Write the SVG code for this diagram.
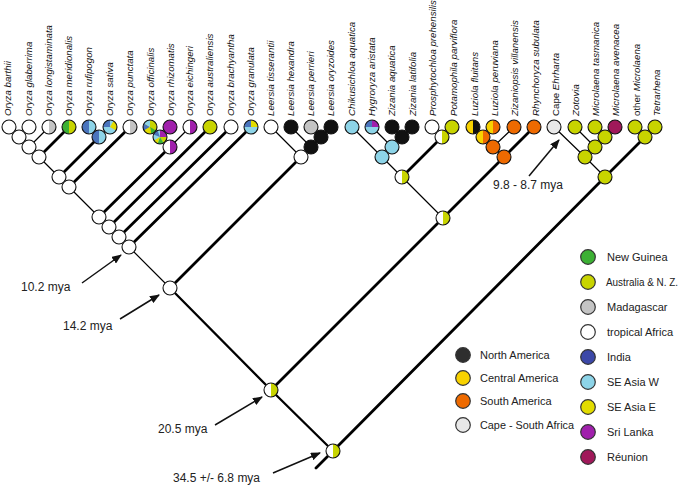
<svg xmlns="http://www.w3.org/2000/svg" xmlns:xlink="http://www.w3.org/1999/xlink" width="685" height="485" viewBox="0 0 685 485">
<style>
.t{font-family:"Liberation Sans",Arial,sans-serif;font-size:9.7px;font-style:italic;fill:#111}
.up{font-style:normal}
.lg{font-family:"Liberation Sans",Arial,sans-serif;font-size:11px;fill:#222}
.an{font-family:"Liberation Sans",Arial,sans-serif;font-size:12px;fill:#222}
.e1{stroke:#000;stroke-width:1.2;fill:none;stroke-linecap:round}
.e2{stroke:#000;stroke-width:2.3;fill:none;stroke-linecap:round}
.e3{stroke:#000;stroke-width:2.8;fill:none;stroke-linecap:round}
.ar{stroke:#111;stroke-width:1.5;fill:none}
.o{fill:none;stroke:#111;stroke-width:1.1}
.c{stroke:#111;stroke-width:1.1}
.lc{stroke:#333;stroke-width:1.2}
.w{fill:#fff}.yg{fill:#c8d400}.g{fill:#3cb034}.gr{fill:#c4c4c4}.bl{fill:#4a74bd}.ib{fill:#3c48a8}
.lb{fill:#8dd4e8}.ye{fill:#e2dc00}.pu{fill:#a020ac}.re{fill:#a0195a}.bk{fill:#111}.nk{fill:#2e2e2e}
.cy{fill:#f8d200}.or{fill:#ee6a00}.cp{fill:#e8e8e8}
</style>
<defs>
<path id="L" d="M0,-7A7,7 0 0 0 0,7Z"/>
<path id="R" d="M0,-7A7,7 0 0 1 0,7Z"/>
<path id="Q1" d="M0,0L-7,0A7,7 0 0 1 0,-7Z"/>
<path id="Q2" d="M0,0L0,-7A7,7 0 0 1 7,0Z"/>
<path id="B" d="M0,0L7,0A7,7 0 0 1 -7,0Z"/>
<marker id="ah" markerWidth="10" markerHeight="8" refX="9" refY="4" orient="auto" markerUnits="userSpaceOnUse"><path d="M0,0L10,4L0,8Z" fill="#111"/></marker>
</defs>

<g id="edges">
<path class="e1" d="M9,127L19,137M29,127L19,137M19,137L29,147M49,127L29,147M29,147L39,157M39,157L59,177M89,127L99,137M110,127L99,137M59,177L69,187M69,187L99,217M150,127L160,137M170,127L160,137M160,137L170,147M190,127L170,147M99,217L129,247M129,247L170,288"/>
<path class="e3" d="M69,127L39,157M99,137L59,177M130,127L69,187M170,147L99,217M210,127L109,227M231,127L119,237M251,127L129,247"/>
<path class="e1" d="M311,127L321,137M331,127L321,137M291,127L311,147M321,137L301,157M271,127L301,157"/>
<path class="e3" d="M301,157L170,288"/>
<path class="e1" d="M392,127L402,137M412,127L402,137M372,127L392,147M402,137L382,157M352,127L382,157M382,157L402,177M432,127L442,137M452,127L442,137M402,177L443,218"/>
<path class="e3" d="M442,137L402,177"/>
<path class="e1" d="M473,127L483,137M493,127L483,137M483,137L493,147M514,127L493,147M493,147L504,157"/>
<path class="e3" d="M534,127L504,157M504,157L443,218M443,218L271,390"/>
<path class="e1" d="M595,127L605,137M615,127L605,137M575,127L595,147M605,137L585,157M554,127L585,157M585,157L605,177M635,127L645,137M655,127L645,137"/>
<path class="e3" d="M645,137L605,177M605,177L333,451M333,451L316,468"/>
<path class="e2" d="M170,288L271,390M271,390L333,451"/>
</g>

<g id="arrows">
<path class="ar" d="M82,283L121,255" marker-end="url(#ah)"/>
<path class="ar" d="M120,319L159,295" marker-end="url(#ah)"/>
<path class="ar" d="M215,425L262,397" marker-end="url(#ah)"/>
<path class="ar" d="M273,473L320,453" marker-end="url(#ah)"/>
<path class="ar" d="M529,176L559,140" marker-end="url(#ah)"/>
</g>

<g id="nodes">
<g id="n-barthii" transform="translate(9,127)"><circle r="7" class="c w"/></g>
<g id="n-glaberrima" transform="translate(29,127)"><circle r="7" class="c w"/></g>
<g id="n-longistaminata" transform="translate(49,127)"><use href="#L" class="w"/><use href="#R" class="gr"/><circle r="7" class="o"/></g>
<g id="n-meridionalis" transform="translate(69,127)"><use href="#L" class="g"/><use href="#R" class="yg"/><circle r="7" class="o"/></g>
<g id="n-rufipogon" transform="translate(89,127)"><use href="#L" class="bl"/><use href="#R" class="lb"/><circle r="7" class="o"/></g>
<g id="n-sativa" transform="translate(110,127)"><circle r="7" class="lb"/><use href="#Q1" class="bl"/><path d="M0,0L3.5,-6.06A7,7 0 0 1 6.06,3.5Z" class="ye"/><circle r="7" class="o"/></g>
<g id="n-rufsat" transform="translate(99,137)"><use href="#L" class="bl"/><use href="#R" class="lb"/><circle r="7" class="o"/></g>
<g id="n-punctata" transform="translate(130,127)"><use href="#L" class="w"/><use href="#R" class="gr"/><circle r="7" class="o"/></g>
<g id="n-officinalis" transform="translate(150,127)"><circle r="7" class="yg"/><path d="M0,0L-6.06,3.5A7,7 0 0 1 -6.06,-3.5Z" class="bl"/><path d="M0,0L-6.06,-3.5A7,7 0 0 1 0,-7Z" class="lb"/><path d="M0,0L6.06,3.5A7,7 0 0 1 1.22,6.89Z" class="g"/><path d="M0,0L1.22,6.89A7,7 0 0 1 -6.06,3.5Z" class="ye"/><circle r="7" class="o"/></g>
<g id="n-rhizomatis" transform="translate(170,127)"><circle r="7" class="c pu"/></g>
<g id="n-offrhi" transform="translate(160,137)"><circle r="7" class="lb"/><use href="#Q2" class="pu"/><path d="M0,0L7,0A7,7 0 0 1 3.5,6.06Z" class="yg"/><path d="M0,0L3.5,6.06A7,7 0 0 1 -2.39,6.58Z" class="g"/><path d="M0,0L-2.39,6.58A7,7 0 0 1 -6.06,3.5Z" class="ye"/><path d="M0,0L-6.58,-2.39A7,7 0 0 1 -2.39,-6.58Z" class="bl"/><circle r="7" class="o"/></g>
<g id="n-eichingeri" transform="translate(190,127)"><use href="#L" class="w"/><use href="#R" class="pu"/><circle r="7" class="o"/></g>
<g id="n-offeich" transform="translate(170,147)"><use href="#L" class="w"/><use href="#R" class="pu"/><circle r="7" class="o"/></g>
<g id="n-australiensis" transform="translate(210,127)"><circle r="7" class="c yg"/></g>
<g id="n-brachyantha" transform="translate(231,127)"><circle r="7" class="c w"/></g>
<g id="n-granulata" transform="translate(251,127)"><use href="#B" class="lb"/><use href="#Q1" class="bl"/><use href="#Q2" class="ye"/><circle r="7" class="o"/></g>
<g id="n-A" transform="translate(19,137)"><circle r="7" class="c w"/></g>
<g id="n-B" transform="translate(29,147)"><circle r="7" class="c w"/></g>
<g id="n-C" transform="translate(39,157)"><circle r="7" class="c w"/></g>
<g id="n-D" transform="translate(59,177)"><circle r="7" class="c w"/></g>
<g id="n-E" transform="translate(69,187)"><circle r="7" class="c w"/></g>
<g id="n-F" transform="translate(99,217)"><circle r="7" class="c w"/></g>
<g id="n-G" transform="translate(109,227)"><circle r="7" class="c w"/></g>
<g id="n-H" transform="translate(119,237)"><circle r="7" class="c w"/></g>
<g id="n-I" transform="translate(129,247)"><circle r="7" class="c w"/></g>
<g id="n-tisserantii" transform="translate(271,127)"><circle r="7" class="c w"/></g>
<g id="n-hexandra" transform="translate(291,127)"><circle r="7" class="c bk"/></g>
<g id="n-perrieri" transform="translate(311,127)"><circle r="7" class="c gr"/></g>
<g id="n-oryzoides" transform="translate(331,127)"><circle r="7" class="c bk"/></g>
<g id="n-L1" transform="translate(321,137)"><circle r="7" class="c bk"/></g>
<g id="n-L2" transform="translate(311,147)"><circle r="7" class="c bk"/></g>
<g id="n-L3" transform="translate(301,157)"><circle r="7" class="c w"/></g>
<g id="n-J" transform="translate(170,288)"><circle r="7" class="c w"/></g>
<g id="n-chikusichloa" transform="translate(352,127)"><circle r="7" class="c lb"/></g>
<g id="n-hygroryza" transform="translate(372,127)"><use href="#B" class="lb"/><use href="#Q1" class="bl"/><use href="#Q2" class="pu"/><circle r="7" class="o"/></g>
<g id="n-zaquatica" transform="translate(392,127)"><circle r="7" class="c bk"/></g>
<g id="n-zlatifolia" transform="translate(412,127)"><circle r="7" class="c bk"/></g>
<g id="n-Z1" transform="translate(402,137)"><circle r="7" class="c bk"/></g>
<g id="n-Z2" transform="translate(392,147)"><circle r="7" class="c lb"/></g>
<g id="n-Z3" transform="translate(382,157)"><circle r="7" class="c lb"/></g>
<g id="n-prosphytochloa" transform="translate(432,127)"><circle r="7" class="c w"/></g>
<g id="n-potamophila" transform="translate(452,127)"><circle r="7" class="c yg"/></g>
<g id="n-PP" transform="translate(442,137)"><use href="#L" class="w"/><use href="#R" class="yg"/><circle r="7" class="o"/></g>
<g id="n-Z" transform="translate(402,177)"><use href="#L" class="w"/><use href="#R" class="yg"/><circle r="7" class="o"/></g>
<g id="n-fluitans" transform="translate(473,127)"><use href="#L" class="cy"/><use href="#R" class="bk"/><circle r="7" class="o"/></g>
<g id="n-peruviana" transform="translate(493,127)"><use href="#L" class="cy"/><use href="#R" class="or"/><circle r="7" class="o"/></g>
<g id="n-zizaniopsis" transform="translate(514,127)"><circle r="7" class="c or"/></g>
<g id="n-rhynchoryza" transform="translate(534,127)"><circle r="7" class="c or"/></g>
<g id="n-U1" transform="translate(483,137)"><use href="#L" class="cy"/><use href="#R" class="or"/><circle r="7" class="o"/></g>
<g id="n-U2" transform="translate(493,147)"><circle r="7" class="c or"/></g>
<g id="n-U3" transform="translate(504,157)"><circle r="7" class="c or"/></g>
<g id="n-K" transform="translate(443,218)"><use href="#L" class="w"/><use href="#R" class="yg"/><circle r="7" class="o"/></g>
<g id="n-cape" transform="translate(554,127)"><circle r="7" class="c cp"/></g>
<g id="n-zotovia" transform="translate(575,127)"><circle r="7" class="c yg"/></g>
<g id="n-tasmanica" transform="translate(595,127)"><circle r="7" class="c yg"/></g>
<g id="n-avenacea" transform="translate(615,127)"><circle r="7" class="c re"/></g>
<g id="n-othermicro" transform="translate(635,127)"><circle r="7" class="c yg"/></g>
<g id="n-tetrarhena" transform="translate(655,127)"><circle r="7" class="c yg"/></g>
<g id="n-E1" transform="translate(605,137)"><circle r="7" class="c yg"/></g>
<g id="n-E2" transform="translate(595,147)"><circle r="7" class="c yg"/></g>
<g id="n-E3" transform="translate(585,157)"><circle r="7" class="c yg"/></g>
<g id="n-E4" transform="translate(645,137)"><circle r="7" class="c yg"/></g>
<g id="n-Q" transform="translate(605,177)"><circle r="7" class="c yg"/></g>
<g id="n-M" transform="translate(271,390)"><use href="#L" class="w"/><use href="#R" class="yg"/><circle r="7" class="o"/></g>
<g id="n-root" transform="translate(333,451)"><use href="#L" class="w"/><use href="#R" class="yg"/><circle r="7" class="o"/></g>
</g>

<g id="labels">
<text class="t" transform="translate(11,116) rotate(-90)">Oryza barthii</text>
<text class="t" transform="translate(32,116) rotate(-90)">Oryza glaberrima</text>
<text class="t" transform="translate(52,116) rotate(-90)">Oryza longistaminata</text>
<text class="t" transform="translate(72,116) rotate(-90)">Oryza meridionalis</text>
<text class="t" transform="translate(92,116) rotate(-90)">Oryza rufipogon</text>
<text class="t" transform="translate(113,116) rotate(-90)">Oryza sativa</text>
<text class="t" transform="translate(133,116) rotate(-90)">Oryza punctata</text>
<text class="t" transform="translate(154,116) rotate(-90)">Oryza officinalis</text>
<text class="t" transform="translate(174,116) rotate(-90)">Oryza rhizomatis</text>
<text class="t" transform="translate(193,116) rotate(-90)">Oryza eichingeri</text>
<text class="t" transform="translate(213,116) rotate(-90)">Oryza australiensis</text>
<text class="t" transform="translate(234,116) rotate(-90)">Oryza brachyantha</text>
<text class="t" transform="translate(254,116) rotate(-90)">Oryza granulata</text>
<text class="t" transform="translate(274,116) rotate(-90)">Leersia tisserantii</text>
<text class="t" transform="translate(294,116) rotate(-90)">Leersia hexandra</text>
<text class="t" transform="translate(314,116) rotate(-90)">Leersia perrieri</text>
<text class="t" transform="translate(334,116) rotate(-90)">Leersia oryzoides</text>
<text class="t" transform="translate(355,116) rotate(-90)">Chikusichloa aquatica</text>
<text class="t" transform="translate(375,116) rotate(-90)">Hygroryza aristata</text>
<text class="t" transform="translate(395,116) rotate(-90)">Zizania aquatica</text>
<text class="t" transform="translate(416,116) rotate(-90)">Zizania latifolia</text>
<text class="t" transform="translate(436,116) rotate(-90)">Prosphytochloa prehensilis</text>
<text class="t" transform="translate(457,116) rotate(-90)">Potamophila parviflora</text>
<text class="t" transform="translate(478,116) rotate(-90)">Luziola fluitans</text>
<text class="t" transform="translate(498,116) rotate(-90)">Luziola peruviana</text>
<text class="t" transform="translate(518,116) rotate(-90)">Zizaniopsis villanensis</text>
<text class="t" transform="translate(539,116) rotate(-90)">Rhynchoryza subulata</text>
<text class="t" transform="translate(559,116) rotate(-90)"><tspan class="up">Cape </tspan>Ehrharta</text>
<text class="t" transform="translate(579,116) rotate(-90)">Zotovia</text>
<text class="t" transform="translate(599,116) rotate(-90)">Microlaena tasmanica</text>
<text class="t" transform="translate(619,116) rotate(-90)">Microlaena avenacea</text>
<text class="t" transform="translate(640,116) rotate(-90)"><tspan class="up">other </tspan>Microlaena</text>
<text class="t" transform="translate(660,116) rotate(-90)">Tetrarhena</text>
</g>

<g id="annotations">
<text class="an" x="21" y="291">10.2 mya</text>
<text class="an" x="63" y="330">14.2 mya</text>
<text class="an" x="158" y="433">20.5 mya</text>
<text class="an" x="173" y="482">34.5 +/- 6.8 mya</text>
<text class="an" x="493" y="189">9.8 - 8.7 mya</text>
</g>

<g id="legend">
<g id="lg-na"><circle cx="463" cy="355" r="7.3" class="lc nk"/><text class="lg" x="480" y="359">North America</text></g>
<g id="lg-ca"><circle cx="463" cy="378" r="7.3" class="lc cy"/><text class="lg" x="480" y="382">Central America</text></g>
<g id="lg-sa"><circle cx="463" cy="401" r="7.3" class="lc or"/><text class="lg" x="480" y="405">South America</text></g>
<g id="lg-cape"><circle cx="463" cy="425" r="7.3" class="lc cp"/><text class="lg" x="480" y="429" textLength="94" lengthAdjust="spacingAndGlyphs">Cape - South Africa</text></g>
<g id="lg-ng"><circle cx="588" cy="257" r="7.3" class="lc g"/><text class="lg" x="607" y="261">New Guinea</text></g>
<g id="lg-au"><circle cx="588" cy="282" r="7.3" class="lc yg"/><text class="lg" x="606" y="286" textLength="72" lengthAdjust="spacingAndGlyphs">Australia &amp; N. Z.</text></g>
<g id="lg-md"><circle cx="588" cy="307" r="7.3" class="lc gr"/><text class="lg" x="607" y="311">Madagascar</text></g>
<g id="lg-ta"><circle cx="588" cy="332" r="7.3" class="lc w"/><text class="lg" x="607" y="336">tropical  Africa</text></g>
<g id="lg-in"><circle cx="588" cy="357" r="7.3" class="lc ib"/><text class="lg" x="607" y="361">India</text></g>
<g id="lg-sw"><circle cx="588" cy="382" r="7.3" class="lc lb"/><text class="lg" x="607" y="386">SE Asia W</text></g>
<g id="lg-se"><circle cx="588" cy="407" r="7.3" class="lc ye"/><text class="lg" x="607" y="411">SE Asia E</text></g>
<g id="lg-sl"><circle cx="588" cy="432" r="7.3" class="lc pu"/><text class="lg" x="607" y="436">Sri Lanka</text></g>
<g id="lg-re"><circle cx="588" cy="457" r="7.3" class="lc re"/><text class="lg" x="607" y="461">Réunion</text></g>
</g>
</svg>
